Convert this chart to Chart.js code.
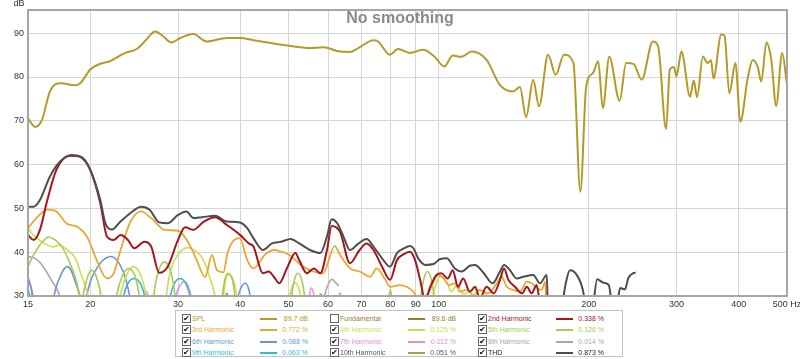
<!DOCTYPE html>
<html>
<head>
<meta charset="utf-8">
<script src="https://cdn.jsdelivr.net/npm/chart.js@4.4.1/dist/chart.umd.min.js"></script>
<style>
  body { margin: 0; background: #fff; }
  #wrap { position: relative; width: 800px; height: 359px; }
  #legend {
    position: absolute; left: 175px; top: 310px; width: 448px; height: 47px;
    border: 1px solid #c4c4c4; box-sizing: border-box; background: #fff;
    font-family: "Liberation Sans", Arial, sans-serif; font-size: 7px;
  }
  .item { position: absolute; width: 140px; height: 10px; }
  .cb {
    position: absolute; left: 6px; top: 0; width: 7px; height: 7px;
    border: 1px solid #666; font-size: 8px; line-height: 7px; text-align: center; color: #111;
  }
  .nm { position: absolute; left: 16px; top: 0; white-space: nowrap; line-height: 9px; }
  .ln { position: absolute; left: 84px; top: 4px; width: 17px; height: 2px; }
  .vl { position: absolute; left: 80px; width: 52px; top: 0; text-align: right; line-height: 9px; white-space: nowrap; }
</style>
</head>
<body>
<div id="wrap">
  <canvas id="chart" width="800" height="359"></canvas>
  <div id="legend"></div>
</div>
<script>
const xTicks = [15, 20, 30, 40, 50, 60, 70, 80, 90, 100, 200, 300, 400, 500];
const yTicks = [30, 40, 50, 60, 70, 80, 90];

// [Hz, dB], null = gap
const spl = [[15,70.6],[15.5,68.6],[16,70.2],[16.6,76.7],[17.5,78.6],[18.6,78.1],[19.1,78.6],[20,81.7],[20.7,82.8],[21.9,83.6],[23.5,85.5],[24.8,86.4],[25.9,88.5],[27,90.4],[28,89.3],[29.1,87.9],[30.3,88.9],[32.2,89.8],[34.2,88.1],[37.6,88.9],[40,88.9],[42.5,88.4],[49.6,87.2],[55.2,86.6],[58.7,86.8],[63.4,85.8],[66.4,85.7],[69,86.6],[74,88.4],[75.6,88.1],[79.8,85.1],[82.9,86.4],[87.6,85.5],[93,86.2],[98,84.7],[102.7,82.4],[106.7,84.9],[111,84.6],[116.5,85.8],[124.8,83.9],[132.7,78.2],[141,76.7],[145.6,77.7],[149.8,70.8],[154.8,79.4],[159,73.3],[165.8,85.1],[171.7,80.5],[178.5,85.1],[186.4,83.2],[192.5,53.8],[197.7,77.8],[204,80.9],[209,83.6],[213.5,72.9],[220,84.6],[230.7,74.6],[237.8,83.2],[246,83],[255.5,79.4],[269,88.1],[275.7,87],[286,68.1],[291,81.7],[296.6,82.3],[300,80.1],[307,85.8],[319.5,75.5],[325,79.2],[330,75.4],[339,84.7],[346.6,83.2],[352,83.8],[356,79.7],[369,89.7],[374.7,89.4],[383,76.3],[394,83.2],[403,69.8],[417,79.7],[426.7,83.9],[436.7,82.3],[444,79],[454.7,87.9],[465,83.9],[475.6,73.4],[489,85.5],[500,78.2]];

const thd = [[15,50.4],[15.4,50.4],[15.85,51.9],[16.6,57.3],[17.4,60.7],[18.35,62.2],[19.1,61.8],[20,58.8],[20.95,51.9],[21.45,46.6],[22.1,45.2],[23,47],[24.3,49.3],[25.3,50.4],[26.3,49.7],[27.5,46.8],[28.6,46.6],[30,48.5],[31.2,49.3],[32.2,47.8],[33.5,48],[35.6,48.3],[37.6,47],[39.9,46.8],[41.3,45.5],[42.5,43.2],[44.4,40.5],[46.3,42],[48.3,42.4],[50.5,43],[52.5,42],[55.2,40.5],[57.9,39.8],[59.7,43.6],[61,47.5],[62.6,46.6],[64.4,43.6],[66.4,40.5],[68.9,41.9],[71.7,43],[74,41.3],[77,38.6],[79.9,36.7],[82.5,39.8],[85,40.8],[87.6,41.4],[89,40.9],[91,38.6],[94,37.1],[97.7,37.3],[100.5,38.4],[103.8,38.6],[107.8,36.3],[111.2,35.6],[115.5,36.9],[118.3,37.1],[123,35.3],[128.3,32.9],[132.8,35.6],[135.3,37.1],[139,35.9],[143.4,34],[148,34.4],[154.8,34.8],[159.7,32.9],[164.8,34.8],[165.6,27],[166,null],[176.5,27],[180,33],[183.4,35.9],[189.3,34.8],[195.3,30.6],[197,27],[200,null],[204,27],[208,33.8],[214.4,33],[219.5,32.5],[223,27],[225,null],[228.7,29],[231.4,31.8],[236.6,31.5],[240,34],[245.5,35.2],[248.5,35.3]];

const h2 = [[15,43.9],[15.4,42.8],[15.85,45.1],[16.4,51.9],[17.1,58.8],[18.2,62],[19.1,61.8],[20,58.8],[20.95,51.2],[21.6,43.6],[22.3,42.8],[23,43.9],[23.8,42.8],[24.5,40.9],[25.7,42.4],[26.5,41.3],[27.5,35.3],[28.6,36.7],[30,42.8],[31,45.7],[32.2,45.1],[33.8,47],[35.6,48],[37.6,46.2],[40,43.9],[41.6,42],[42.5,41.3],[44.4,35.2],[45.6,35.6],[46.7,34.4],[47.9,32.9],[49.6,36.3],[51.6,39.8],[52.5,38.2],[54.4,35.2],[56.2,36.3],[57.9,35.2],[59.7,40.5],[61,46],[63.4,44.7],[66.4,37.5],[69.4,40.5],[71.7,42],[74,40.5],[77,36.7],[79.9,33.7],[82.5,38.2],[85,39.5],[87.6,40.1],[89.7,38.2],[91.8,33.7],[94,29],[96.2,32.1],[99,34.8],[101.2,35.2],[104.3,34],[106.7,35.9],[109.4,32.1],[112,34],[115.5,31],[118.3,32.1],[121,29.5],[124.8,32.1],[129,30.6],[132.8,33.7],[135.3,36.3],[138,33.7],[142.3,32.1],[147,30.6],[150.3,32.1],[153.7,30.6],[157.3,32.5],[160,27]];

const h3 = [[15,45.5],[15.6,47.8],[16.4,49.7],[17.1,49.3],[17.9,46.6],[18.9,45.7],[19.7,43.6],[20.6,38.2],[21.6,34],[22.3,35.2],[23,40.5],[24.1,47],[25.3,49.3],[26.5,47.8],[28.2,45.1],[30,44.9],[31.4,42.4],[32.7,38.2],[34,34.3],[35.1,39.4],[35.9,35.9],[37,35.4],[37.7,39.8],[38.9,42.8],[39.9,43.2],[41.3,38.2],[42.5,36.3],[44.8,39.4],[46.7,40.5],[48.4,40.1],[50,39.5],[52.9,37.1],[56,35.6],[58.6,35.2],[61.9,41.4],[63.4,39.4],[66.4,36.3],[69.4,35.6],[72.9,34.4],[75.1,36.3],[78.2,33.7],[79.9,32.1],[83.7,32.5],[86.2,32.1],[89,31],[91,29.5],[95,30.5],[99.8,34.8],[102.3,34],[105,32.5],[107.8,32.9],[110.3,31],[113.7,31.4],[117.5,30.2],[121,31.4],[125.7,30.6],[130.8,32.9],[133.8,34.4],[137,32.1],[141,31.4],[145.6,31],[150.3,33.3],[153.7,32.9],[157.3,31.8],[161,31.4],[163.6,33.3],[164.5,27]];

const h4 = [[15,45.5],[15.5,43.5],[16.2,42],[16.8,41.2],[17.4,41.6],[18,40.5],[18.6,38.9],[19.1,35.5],[19.7,31],[20.1,27],[20.5,null],[22.6,27],[23.5,34],[24.4,36.7],[25.3,34.5],[26.2,27],[27,null],[28.2,27],[29,36],[30,39.5],[31.2,41],[32.2,40.6],[33.5,38.8],[34.8,34],[35.6,30],[36,27],[36.4,null],[36.8,27],[37.3,33],[37.9,35],[38.9,33],[39.6,27],[40,null],[49.8,27],[50.6,31.5],[51.5,33],[52.5,31.5],[53.5,27],[60,null],[96,27],[99,33],[101,34.5],[104,33],[106,31],[109,32.5],[112,30.5],[118,31.5],[124,30.5],[128,27]];

const h5 = [[15,36.7],[15.5,40],[16.4,43.4],[17,42.8],[17.6,41],[18.2,37.5],[18.8,33],[19.2,27],[19.15,null],[19.1,27],[19.6,33],[20.1,35.9],[20.7,33.5],[21.2,27],[21.5,null],[22.3,27],[23,33.5],[23.8,36.3],[24.6,34.5],[25.3,27],[26,null],[26.6,27],[27.3,35],[28.2,37.8],[29.1,35],[29.8,27],[30,null],[36.6,27],[37.2,33.5],[37.8,35.2],[38.6,33.5],[39.2,27],[45,null],[50.4,27],[51.2,33],[52.2,35.2],[53.3,33],[54.2,27],[60,null],[79,27],[80,31.4],[81,27],[85,null],[91.5,27],[93,33],[95,35.6],[97,33],[98.5,27]];

const h6 = [[15,34.4],[15.2,32],[15.45,27],[16,null],[16.7,27],[17.2,33],[18,36.7],[18.7,33],[19.4,27],[19.4,null],[19.4,27],[20.3,35],[21.9,39],[23.2,36],[24.3,27],[30,null],[39,27],[40,31.5],[40.9,32.9],[41.6,31.5],[42.2,27]];

const h7 = [[15,34],[15.3,31],[15.5,27],[20,null],[25.3,27],[25.9,31],[26.4,27],[28,null],[29.3,27],[30,31.5],[30.9,33.3],[31.6,31.5],[32.2,27],[40,null],[54.4,27],[55.6,31.8],[56.9,27],[60,null],[62.4,27],[63.4,30.7],[64.4,27]];

const h8 = [[15,39],[15.5,38.6],[16,37.1],[16.7,33.7],[17.3,30.6],[17.5,27],[30,null],[58.5,27],[59.5,31.5],[61,33.8],[62.2,33],[63,32.3]];

const h9 = [[15,31.5],[15.4,27],[20,null],[23,27],[23.7,32.5],[24.5,34],[25.3,32.5],[26.1,27],[27,null],[28.6,27],[29.4,32.5],[30.3,34],[31.2,32.5],[32.2,27]];

const h10 = [[36.8,27],[37.6,30.6],[38.4,27],[45,null],[57,27],[58,30.5],[59,27]];

const legendNames = ['SPL', 'Fundamental', '2nd Harmonic', '3rd Harmonic', '4th Harmonic', '5th Harmonic',
  '6th Harmonic', '7th Harmonic', '8th Harmonic', '9th Harmonic', '10th Harmonic', 'THD'];
const legendValues = ['89.7 dB', '89.6 dB', '0.338 %', '0.772 %', '0.125 %', '0.126 %',
  '0.088 %', '0.112 %', '0.014 %', '0.063 %', '0.051 %', '0.873 %'];
const legendChecked = [true, false, true, true, true, true, true, true, true, true, true, true];

const colors = {
  spl: '#b59a28', fund: '#9a7a3a', h2: '#a8141c', h3: '#e8a834', h4: '#cfdc50', h5: '#a6cc54',
  h6: '#6b98d4', h7: '#e08ee0', h8: '#a8a8a8', h9: '#30bcc8', h10: '#a4a440', thd: '#4e4e4e'
};
const legendColors = [colors.spl, colors.fund, colors.h2, colors.h3, colors.h4, colors.h5,
  colors.h6, colors.h7, colors.h8, colors.h9, colors.h10, colors.thd];
const textColors = [colors.spl, colors.fund, colors.h2, colors.h3, colors.h4, colors.h5,
  colors.h6, colors.h7, colors.h8, colors.h9, '#555', '#222'];

function pts(arr) {
  return arr.map(p => ({ x: p[0], y: p[1] }));
}

function line(data, color, width, order, smooth) {
  const ds = {
    data: pts(data),
    borderColor: color,
    borderWidth: width,
    pointRadius: 0,
    spanGaps: false,
    order: order
  };
  if (smooth) {
    ds.tension = 0.4;
  } else {
    ds.cubicInterpolationMode = 'monotone';
  }
  return ds;
}

const datasets = [
  line(spl, colors.spl, 2, 0, false),
  line(thd, colors.thd, 2, 1, false),
  line(h2, colors.h2, 2, 2, false),
  line(h3, colors.h3, 1.8, 3, false),
  line(h4, colors.h4, 1.6, 5, true),
  line(h5, colors.h5, 1.6, 4, true),
  line(h6, colors.h6, 1.6, 6, true),
  line(h7, colors.h7, 1.6, 7, true),
  line(h8, colors.h8, 1.6, 8, true),
  line(h9, colors.h9, 1.6, 6, true),
  line(h10, colors.h10, 1.6, 9, true)
];

const decor = {
  id: 'decor',
  beforeDatasetsDraw(chart) {
    const ctx = chart.ctx;
    ctx.save();
    ctx.fillStyle = '#8a8a8a';
    ctx.font = 'bold 16px "Liberation Sans", Arial, sans-serif';
    ctx.textAlign = 'center';
    ctx.textBaseline = 'middle';
    ctx.fillText('No smoothing', 400, 19);
    ctx.fillStyle = '#333';
    ctx.font = '9px "Liberation Sans", Arial, sans-serif';
    ctx.fillText('dB', 19, 4);
    ctx.restore();
  },
  afterDatasetsDraw(chart) {
    const ctx = chart.ctx;
    const a = chart.chartArea;
    ctx.save();
    ctx.strokeStyle = '#a6a6a6';
    ctx.lineWidth = 2;
    ctx.strokeRect(a.left, a.top, a.right - a.left, a.bottom - a.top);
    ctx.restore();
  }
};

new Chart(document.querySelector('#chart'), {
  type: 'line',
  data: { datasets: datasets },
  options: {
    responsive: false,
    animation: false,
    devicePixelRatio: 1,
    layout: { padding: { left: 0, right: 13, top: 10, bottom: 51 } },
    plugins: { legend: { display: false }, tooltip: { enabled: false } },
    scales: {
      x: {
        type: 'logarithmic',
        min: 15,
        max: 500,
        afterBuildTicks: s => { s.ticks = xTicks.map(v => ({ value: v })); },
        afterFit: s => { s.height = 12; s.paddingLeft = 0; s.paddingRight = 0; },
        ticks: {
          autoSkip: false,
          maxRotation: 0,
          padding: 3,
          color: '#333',
          font: { family: '"Liberation Sans", Arial, sans-serif', size: 9 },
          callback: v => v === 500 ? '500 Hz' : String(v)
        },
        grid: { color: '#d6d6d6', drawTicks: false },
        border: { display: false }
      },
      y: {
        min: 30,
        max: 95.3,
        afterBuildTicks: s => { s.ticks = yTicks.map(v => ({ value: v })); },
        afterFit: s => { s.width = 28; s.paddingTop = 0; s.paddingBottom = 0; },
        ticks: {
          padding: 4,
          color: '#333',
          font: { family: '"Liberation Sans", Arial, sans-serif', size: 9 }
        },
        grid: { color: '#d6d6d6', drawTicks: false },
        border: { display: false }
      }
    }
  },
  plugins: [decor]
});

// legend table, 3 columns x 4 rows
const legend = document.querySelector('#legend');
for (let i = 0; i < legendNames.length; i++) {
  const col = i % 3;
  const row = Math.floor(i / 3);
  const item = document.createElement('div');
  item.className = 'item';
  item.style.left = (col * 148) + 'px';
  item.style.top = (3 + row * 11.4) + 'px';
  item.innerHTML =
    '<span class="cb">' + (legendChecked[i] ? '✔' : '') + '</span>' +
    '<span class="nm" style="color:' + textColors[i] + '">' + legendNames[i] + '</span>' +
    '<span class="ln" style="background:' + legendColors[i] + '"></span>' +
    '<span class="vl" style="color:' + textColors[i] + '">' + legendValues[i] + '</span>';
  legend.appendChild(item);
}
</script>
</body>
</html>
